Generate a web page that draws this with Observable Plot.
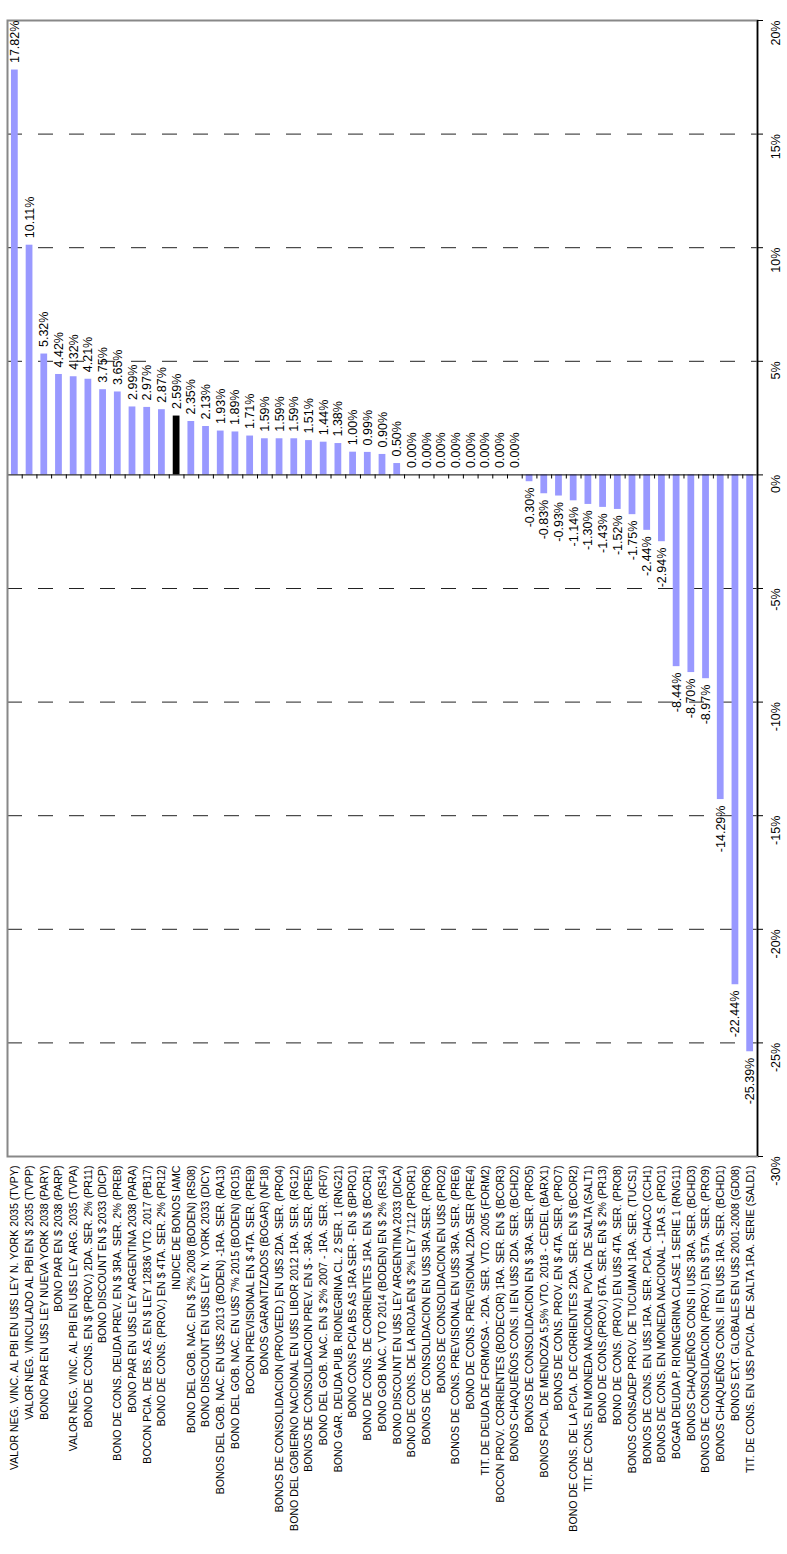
<!DOCTYPE html>
<html><head><meta charset="utf-8">
<script src="https://cdn.jsdelivr.net/npm/d3@7"></script>
<script src="https://cdn.jsdelivr.net/npm/@observablehq/plot@0.6"></script>
<style>body{margin:0;background:#fff}</style>
</head><body><div id="chart"></div>
<script>
const names = [
  "VALOR NEG. VINC. AL PBI EN U$S LEY N. YORK 2035 (TVPY)",
  "VALOR NEG. VINCULADO AL PBI EN $ 2035 (TVPP)",
  "BONO PAR EN U$S LEY NUEVA YORK 2038 (PARY)",
  "BONO PAR EN $ 2038 (PARP)",
  "VALOR NEG. VINC. AL PBI EN U$S LEY ARG. 2035 (TVPA)",
  "BONO DE CONS. EN $ (PROV.) 2DA. SER. 2% (PR11)",
  "BONO DISCOUNT EN $ 2033 (DICP)",
  "BONO DE CONS. DEUDA PREV. EN $ 3RA. SER. 2% (PRE8)",
  "BONO PAR EN U$S LEY ARGENTINA 2038 (PARA)",
  "BOCON PCIA. DE BS. AS. EN $ LEY 12836 VTO. 2017 (PB17)",
  "BONO DE CONS. (PROV.) EN $ 4TA. SER. 2% (PR12)",
  "INDICE DE BONOS IAMC",
  "BONO DEL GOB. NAC. EN $ 2% 2008 (BODEN) (RS08)",
  "BONO DISCOUNT EN U$S LEY N. YORK 2033 (DICY)",
  "BONOS DEL GOB. NAC. EN U$S 2013 (BODEN) -1RA. SER. (RA13)",
  "BONO DEL GOB. NAC. EN U$S 7% 2015 (BODEN) (RO15)",
  "BOCON PREVISIONAL EN $ 4TA. SER. (PRE9)",
  "BONOS GARANTIZADOS (BOGAR) (NF18)",
  "BONOS DE CONSOLIDACION (PROVEED.) EN U$S 2DA. SER. (PRO4)",
  "BONO DEL GOBIERNO NACIONAL EN U$S LIBOR 2012 1RA. SER. (RG12)",
  "BONOS DE CONSOLIDACION PREV. EN $ - 3RA. SER. (PRE5)",
  "BONO DEL GOB. NAC. EN $ 2% 2007 - 1RA. SER. (RF07)",
  "BONO GAR. DEUDA PUB. RIONEGRINA CL. 2 SER. 1 (RNG21)",
  "BONO CONS PCIA BS AS 1RA SER - EN $ (BPRO1)",
  "BONO DE CONS. DE CORRIENTES 1RA. EN $ (BCOR1)",
  "BONO GOB NAC. VTO 2014 (BODEN) EN $ 2% (RS14)",
  "BONO DISCOUNT EN U$S LEY ARGENTINA 2033 (DICA)",
  "BONO DE CONS. DE LA RIOJA EN $ 2% LEY 7112 (PROR1)",
  "BONOS DE CONSOLIDACION EN U$S 3RA.SER. (PRO6)",
  "BONOS DE CONSOLIDACION EN U$S (PRO2)",
  "BONOS DE CONS. PREVISIONAL EN U$S 3RA. SER. (PRE6)",
  "BONO DE CONS. PREVISIONAL 2DA SER (PRE4)",
  "TIT. DE DEUDA DE FORMOSA - 2DA. SER. VTO. 2005 (FORM2)",
  "BOCON PROV. CORRIENTES (BODECOR) 1RA. SER. EN $ (BCOR3)",
  "BONOS CHAQUEÑOS CONS. II EN U$S 2DA. SER. (BCHD2)",
  "BONOS DE CONSOLIDACION EN $ 3RA. SER. (PRO5)",
  "BONOS PCIA. DE MENDOZA 5,5% VTO. 2018 - CEDEL (BARX1)",
  "BONOS DE CONS. PROV. EN $ 4TA. SER. (PRO7)",
  "BONO DE CONS. DE LA PCIA. DE CORRIENTES 2DA. SER. EN $ (BCOR2)",
  "TIT. DE CONS. EN MONEDA NACIONAL PVCIA. DE SALTA (SALT1)",
  "BONO DE CONS.(PROV.) 6TA. SER. EN $ 2% (PR13)",
  "BONO DE CONS. (PROV.) EN U$S 4TA. SER. (PRO8)",
  "BONOS CONSADEP PROV. DE TUCUMAN 1RA. SER. (TUCS1)",
  "BONOS DE CONS. EN U$S 1RA. SER. PCIA. CHACO (CCH1)",
  "BONOS DE CONS. EN MONEDA NACIONAL - 1RA S. (PRO1)",
  "BOGAR DEUDA P. RIONEGRINA CLASE 1 SERIE 1 (RNG11)",
  "BONOS CHAQUEÑOS CONS II U$S 3RA. SER. (BCHD3)",
  "BONOS DE CONSOLIDACION (PROV.) EN $ 5TA. SER. (PRO9)",
  "BONOS CHAQUEÑOS CONS. II EN U$S 1RA. SER. (BCHD1)",
  "BONOS EXT. GLOBALES EN U$S 2001-2008 (GD08)",
  "TIT. DE CONS. EN U$S PVCIA. DE SALTA 1RA. SERIE (SALD1)"
];
const values = [
  17.82, 10.11, 5.32, 4.42, 4.32, 4.21, 3.75, 3.65, 2.99, 2.97, 2.87, 2.59,
  2.35, 2.13, 1.93, 1.89, 1.71, 1.59, 1.59, 1.59, 1.51, 1.44, 1.38, 1.00,
  0.99, 0.90, 0.50, 0.00, 0.00, 0.00, 0.00, 0.00, 0.00, 0.00, 0.00, -0.30,
  -0.83, -0.93, -1.14, -1.30, -1.43, -1.52, -1.75, -2.44, -2.94, -8.44, -8.70,
  -8.97, -14.29, -22.44, -25.39
];
const highlight = "INDICE DE BONOS IAMC";
const yTicks = [-30, -25, -20, -15, -10, -5, 0, 5, 10, 15, 20];

const data = names.map((name, i) => ({name, value: values[i]}));
const W = 787, H = 1554, mL = 7, mR = 30, mT = 20, mB = 398;
const step = (W - mL - mR) / names.length;
const fmt = v => v.toFixed(2) + "%";

const chart = Plot.plot({
  width: W, height: H,
  marginLeft: mL, marginRight: mR, marginTop: mT, marginBottom: mB,
  style: {fontFamily: '"Liberation Sans", Arial, sans-serif', background: "#fff", color: "#000", overflow: "visible"},
  x: {type: "band", domain: names, paddingInner: 0.54, paddingOuter: 0.27, axis: null},
  y: {domain: [-30, 20], axis: null},
  marks: [
    Plot.ruleY(yTicks.filter(t => t !== 0 && t !== -30 && t !== 20), {stroke: "#222", strokeDasharray: "15,16"}),
    Plot.barY(data.filter(d => d.name !== highlight), {x: "name", y: "value", fill: "#9999FF"}),
    Plot.barY(data.filter(d => d.name === highlight), {x: "name", y: "value", fill: "#000"}),
    Plot.ruleY([0], {stroke: "#000"}),
    Plot.ruleX(names, {x: d => d, y1: 0, y2: -0.18, dx: -step / 2, stroke: "#000"}),
    Plot.frame({stroke: "#888", strokeWidth: 2}),
    Plot.ruleX([names[names.length - 1]], {x: d => d, y1: -30, y2: 20, dx: step / 2, stroke: "#000", strokeWidth: 1.5}),
    Plot.axisY(yTicks, {anchor: "right", tickSize: 5, tickFormat: () => "", label: null, stroke: "#000"}),
    Plot.text(yTicks, {y: d => d, frameAnchor: "right", text: d => d + "%", rotate: -90, dx: 18, fontSize: 12.5, fill: "#000"}),
    Plot.axisX({anchor: "bottom", tickSize: 0, tickPadding: 9, tickRotate: -90, fontSize: 10.6, label: null, fill: "#000"}),
    Plot.text(data.filter(d => d.value >= 0), {x: "name", y: "value", text: d => fmt(d.value), rotate: -90, textAnchor: "start", dy: -7, fontSize: 12.5, fill: "#000"}),
    Plot.text(data.filter(d => d.value < 0), {x: "name", y: "value", text: d => fmt(d.value), rotate: -90, textAnchor: "end", dy: 6, fontSize: 12.5, fill: "#000"})
  ]
});
document.getElementById("chart").appendChild(chart);
</script>
</body></html>
